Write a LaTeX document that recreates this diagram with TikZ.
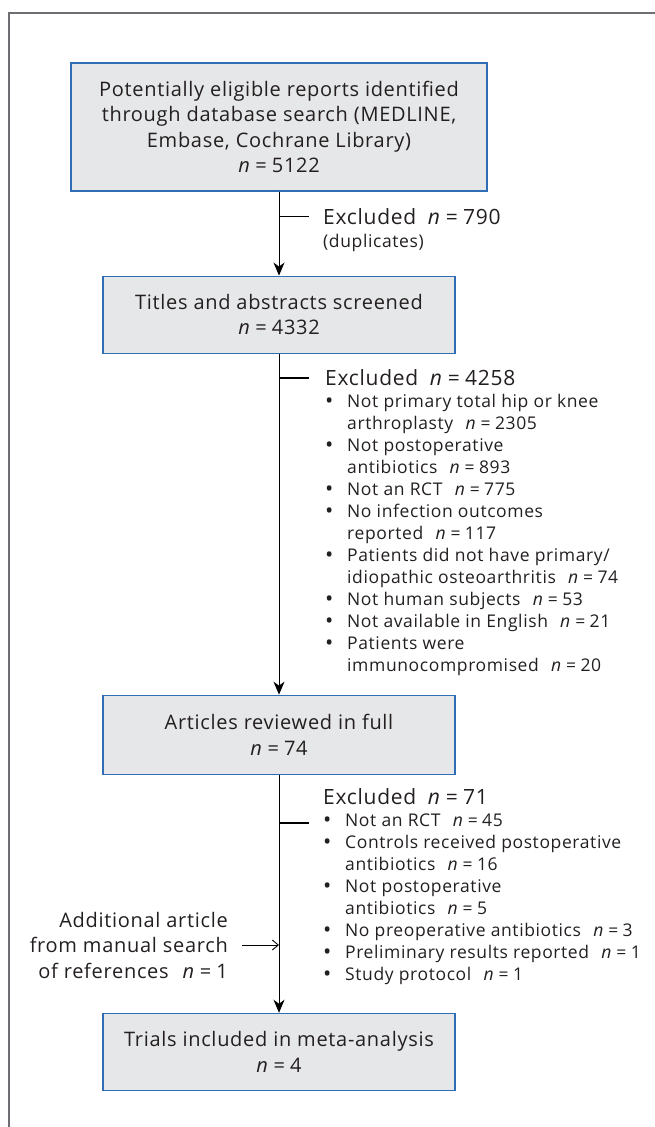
\documentclass[tikz,border=0pt]{standalone}
\usepackage{fontspec}
\setmainfont{Open Sans}[LetterSpace=3.5]
\usetikzlibrary{positioning,arrows.meta}
\definecolor{boxfill}{HTML}{E6E7E8}
\definecolor{boxline}{HTML}{2F6DB5}
\definecolor{inkgrey}{HTML}{231F20}
\definecolor{framegrey}{HTML}{6D6E71}
\newcommand{\nn}[1]{\textit{n}\hspace{0.25em}=\hspace{0.25em}#1}
\newcommand{\gap}{\hspace{0.7em}}
\newcommand{\exhead}[1]{{\fontsize{21}{22}\selectfont Excluded\hspace{0.55em}\nn{#1}}}
\newcommand{\bitem}{\makebox[22pt][l]{\raisebox{-1pt}{\fontsize{22}{22}\selectfont\textbullet}}}
\newcommand{\bcont}{\hspace*{22pt}}

\begin{document}
\begin{tikzpicture}[x=1pt, y=-1pt, align=center, text=inkgrey]

\tikzstyle{stage} = [rectangle, draw=boxline, line width=1.1pt, fill=boxfill, minimum width=352pt, minimum height=77pt, inner sep=0pt, font=\fontsize{20}{25.5}\selectfont]
\tikzstyle{note} = [align=left, anchor=north west, inner sep=0pt, font=\fontsize{17.5}{22}\selectfont]
\tikzstyle{arrow} = [line width=0.9pt, -{Stealth[length=13pt,width=11pt,inset=4pt]}]
\tikzstyle{tick} = [line width=1.2pt]

\useasboundingbox (0,0) rectangle (655,1127);
\draw [framegrey, line width=1.6pt] (9,1127) -- (9,12.7) -- (655,12.7);

% flow boxes
\node (search) [stage, minimum width=416pt, minimum height=128pt] at (279,127) {Potentially eligible reports identified\\ through database search (MEDLINE,\\ Embase, Cochrane Library)\\ \nn{5122}};
\node (screened) [stage, below=84pt of search] {Titles and abstracts screened\\ \nn{4332}};
\node (fulltext) [stage, below=341pt of screened, minimum height=79pt] {Articles reviewed in full\\ \nn{74}};
\node (included) [stage, below=238pt of fulltext] {Trials included in meta-analysis\\ \nn{4}};

% exclusions
\node (dupes) [note] at (323,208) {\exhead{790}\\[1pt] (duplicates)};
\node (screenout) [note] at (325,369.5) {\exhead{4258}\\
\bitem Not primary total hip or knee\\
\bcont arthroplasty\gap\nn{2305}\\
\bitem Not postoperative\\
\bcont antibiotics\gap\nn{893}\\
\bitem Not an RCT\gap\nn{775}\\
\bitem No infection outcomes\\
\bcont reported\gap\nn{117}\\
\bitem Patients did not have primary/\\
\bcont idiopathic osteoarthritis\gap\nn{74}\\
\bitem Not human subjects\gap\nn{53}\\
\bitem Not available in English\gap\nn{21}\\
\bitem Patients were\\
\bcont immunocompromised\gap\nn{20}};
\node (fullout) [note] at (323,788) {\exhead{71}\\
\bitem Not an RCT\gap\nn{45}\\
\bitem Controls received postoperative\\
\bcont antibiotics\gap\nn{16}\\
\bitem Not postoperative\\
\bcont antibiotics\gap\nn{5}\\
\bitem No preoperative antibiotics\gap\nn{3}\\
\bitem Preliminary results reported\gap\nn{1}\\
\bitem Study protocol\gap\nn{1}};
\node (extra) [align=right, anchor=east, inner sep=0pt, font=\fontsize{20}{25.5}\selectfont] at (228,945) {Additional article\\ from manual search\\ of references\gap\nn{1}};

\coordinate (cut1) at (279,216.7);
\coordinate (cut1e) at (309,216.7);
\coordinate (cut2) at (279,378);
\coordinate (cut2e) at (309,378);
\coordinate (cut3) at (279,823);
\coordinate (cut3e) at (309,823);

\draw [arrow] (search) -- (screened);
\draw [arrow] (screened) -- (fulltext);
\draw [arrow] (fulltext) -- (included);
\draw [tick] (cut1) -- (cut1e);
\draw [tick] (cut2) -- (cut2e);
\draw [tick] (cut3) -- (cut3e);
\draw [line width=0.9pt, -{Straight Barb[length=6pt,width=10pt]}, shorten <=14pt] (extra.east) -- (extra.east -| fulltext.south);
\end{tikzpicture}
\end{document}
